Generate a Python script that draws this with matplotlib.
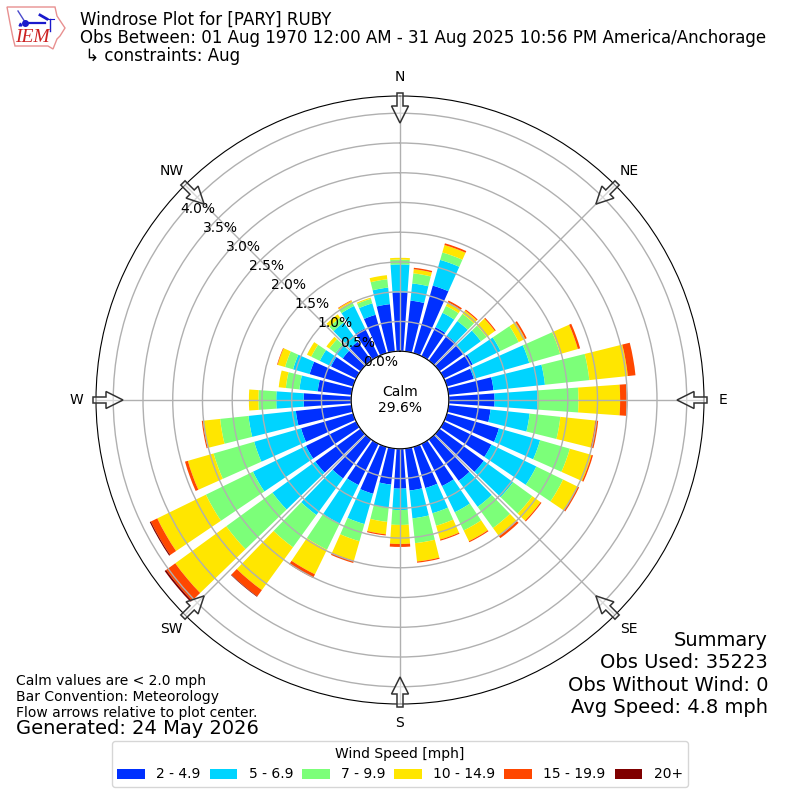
import matplotlib
matplotlib.use('Agg')
import matplotlib.pyplot as plt
import numpy as np
from matplotlib.patches import FancyArrow, Polygon
from matplotlib.lines import Line2D

# direcciones cada 10 grados, desde el norte
directions = np.arange(0, 360, 10)
speed_labels = ['2 - 4.9', '5 - 6.9', '7 - 9.9', '10 - 14.9', '15 - 19.9', '20+']
colors = ['#0030ff', '#00d4ff', '#7cff79', '#ffe600', '#ff4700', '#7f0000']

# porcentaje de observaciones por bin de velocidad
speed_2_5 = [.99, .86, 1.18, .54, .52, .49, .54, .47, .76, .77, .71, .91,
             .89, .92, .86, .79, .72, .71, .67, .61, .82, .77, .81, .94,
             .94, .91, .94, .80, .57, .76, .47, .37, .39, .52, .67, .80]
speed_5_7 = [.47, .29, .45, .27, .30, .37, .52, .97, .87, .72, .66, .72,
             .84, .61, .54, .49, .44, .47, .36, .39, .53, .72, .76, .89,
             .99, .82, .80, .46, .31, .29, .21, .15, .40, .42, .20, .28]
speed_7_10 = [.08, .17, .13, .13, .15, .12, .34, .54, .75, .69, .52, .52,
              .50, .40, .44, .34, .22, .42, .25, .24, .30, .49, .67, .96,
              .88, .71, .48, .30, .23, .14, .16, .13, .10, .07, .08, .14]
speed_10_15 = [.03, .07, .13, .07, .07, .17, .12, .31, .65, .70, .59, .38,
               .27, .17, .17, .20, .24, .31, .32, .21, .34, .46, .89, 1.06,
               .91, .45, .29, .16, .12, .13, .08, .06, .07, .025, .02, .07]
speed_15_20 = [0, .025, .03, .03, .02, .02, .03, .04, .13, .11, .05, .025,
               .03, .02, .04, .02, .02, .02, .05, .02, .04, .07, .13, .19,
               .12, .05, .02, 0, 0, .01, 0, 0, 0, .01, 0, 0]
speed_20 = [0, 0, 0, 0, 0, 0, 0, 0, 0, 0, 0, 0,
            0, 0, 0, 0, 0, 0, 0, 0, 0, 0, .01, .03,
            .02, 0, 0, 0, 0, 0, 0, 0, 0, 0, 0, 0]
all_speeds = [speed_2_5, speed_5_7, speed_7_10, speed_10_15, speed_15_20, speed_20]

r_ticks = [0, .5, 1, 1.5, 2, 2.5, 3, 3.5, 4]
compass = ['N', 'NE', 'E', 'SE', 'S', 'SW', 'W', 'NW']

fig = plt.figure(figsize=(8, 8), dpi=100)
ax = fig.add_axes([96 / 800, 96 / 800, 608 / 800, 608 / 800], projection='polar')
ax.set_theta_zero_location('N')
ax.set_theta_direction(-1)

bottom = np.zeros(len(directions))
for values, color, label in zip(all_speeds, colors, speed_labels):
  ax.bar(np.deg2rad(directions), values, width=np.deg2rad(8), bottom=bottom,
         color=color, label=label, linewidth=0)
  bottom = bottom + np.array(values)

ax.set_rorigin(-0.82)
ax.set_ylim(0, 4.29)
ax.set_yticks(r_ticks)
ax.set_yticklabels([f'{t:.1f}%' for t in r_ticks], fontsize=10)
ax.set_rlabel_position(310)
ax.set_xticks(np.deg2rad(np.arange(0, 360, 45)))
ax.set_xticklabels(compass, fontsize=10)
ax.grid(True, color='#b0b0b0', linewidth=1)
ax.text(0.5, 0.5, 'Calm\n29.6%', transform=ax.transAxes, ha='center', va='center',
        fontsize=10)

# flechas de flujo hacia el centro
for angle in np.deg2rad(np.arange(0, 360, 45)):
  sx, sy = np.sin(angle), np.cos(angle)
  x0 = 0.5 + 307 / 800 * sx
  y0 = 0.5 + 307 / 800 * sy
  fig.add_artist(FancyArrow(x0, y0, -30 / 800 * sx, -30 / 800 * sy,
                            width=6 / 800, head_width=17 / 800, head_length=17 / 800,
                            length_includes_head=True, transform=fig.transFigure,
                            facecolor=(1, 1, 1, 0.5), edgecolor='#333333', linewidth=1.1))

fig.text(80 / 800, 1 - 20 / 800, 'Windrose Plot for [PARY] RUBY', fontsize=12, va='center')
fig.text(80 / 800, 1 - 38 / 800, 'Obs Between: 01 Aug 1970 12:00 AM - 31 Aug 2025 10:56 PM America/Anchorage',
         fontsize=12, va='center')
fig.text(80 / 800, 1 - 56 / 800, ' ↳ constraints: Aug', fontsize=12, va='center')

fig.text(768 / 800, 1 - 717 / 800, 'Summary\nObs Used: 35223\nObs Without Wind: 0\nAvg Speed: 4.8 mph',
         fontsize=14, ha='right', va='bottom', linespacing=1.22)
fig.text(16 / 800, 1 - 720 / 800, 'Calm values are < 2.0 mph\nBar Convention: Meteorology\nFlow arrows relative to plot center.',
         fontsize=10, va='bottom', linespacing=1.17)
fig.text(16 / 800, 1 - 729 / 800, 'Generated: 24 May 2026', fontsize=14, va='center')

handles, labels = ax.get_legend_handles_labels()
fig.legend(handles, labels, title='Wind Speed [mph]', ncol=6, loc='lower center',
           bbox_to_anchor=(0.5, 0.0075), fontsize=10, title_fontsize=10, columnspacing=0.65)

# logo IEM, en coordenadas de pixel
logo = fig.add_axes([0, 1 - 55 / 800, 75 / 800, 55 / 800])
logo.set_xlim(0, 75)
logo.set_ylim(55, 0)
logo.axis('off')
outline = [(7, 7), (55, 7), (57, 16), (65, 28), (60, 36), (57, 39), (53, 49), (48, 46),
           (15, 46), (13, 38), (10, 23)]
logo.add_patch(Polygon(outline, closed=True, fill=False, edgecolor='#e89090', linewidth=1))
logo.add_line(Line2D([25, 45], [23, 23], color='#1a1acc', linewidth=1.6))
logo.add_line(Line2D([18, 25], [11, 22], color='#4a4acc', linewidth=1))
logo.add_line(Line2D([40, 47], [15, 19], color='#1a1acc', linewidth=2))
logo.add_line(Line2D([46, 54], [19, 19], color='#1a1acc', linewidth=0.8))
logo.add_line(Line2D([50, 50], [19, 31], color='#1a1acc', linewidth=1))
logo.add_line(Line2D([25], [23], color='#1a1acc', marker='o', markersize=4))
logo.add_line(Line2D([20], [24], color='#1a1acc', marker='^', markersize=2))
logo.text(15, 38, 'IEM', family='Liberation Serif', style='italic', color='#cc2222',
          fontsize=14, va='center')

fig.savefig('out.png', dpi=100)
plt.close()
